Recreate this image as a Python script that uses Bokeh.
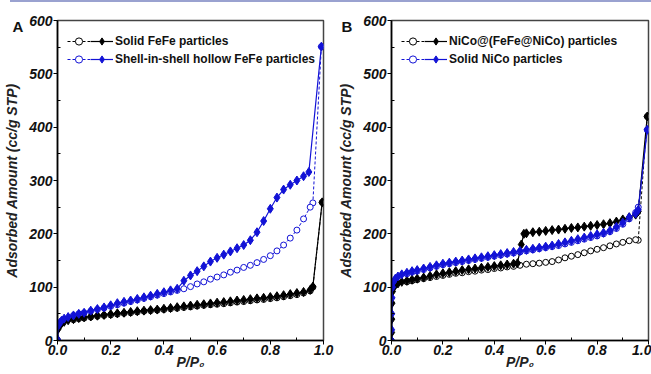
from bokeh.plotting import figure
from bokeh.models import Legend, LegendItem, FixedTicker, PrintfTickFormatter, Range1d, Div
from bokeh.layouts import row, column
from bokeh.embed import file_html
from bokeh.resources import INLINE

# ---------------- data ----------------
X_TICKS = [0.0, 0.2, 0.4, 0.6, 0.8, 1.0]
X_MINOR = [0.1, 0.3, 0.5, 0.7, 0.9]
Y_TICKS = [0, 100, 200, 300, 400, 500, 600]
Y_MINOR = [50, 150, 250, 350, 450, 550]

# Panel A
A_X_BLACK_FILLED = [0.0, 0.003, 0.008, 0.015, 0.025, 0.04, 0.06, 0.08,
                    0.1, 0.125, 0.15, 0.175, 0.2, 0.225, 0.25, 0.275, 0.3, 0.325,
                    0.35, 0.375, 0.4, 0.425, 0.45, 0.475, 0.5, 0.525, 0.55, 0.575,
                    0.6, 0.625, 0.65, 0.675, 0.7, 0.725, 0.75, 0.775, 0.8, 0.825,
                    0.85, 0.875, 0.9, 0.925, 0.95, 0.96, 0.995]
A_Y_BLACK_FILLED = [2, 22, 28, 32, 35, 38, 40, 42,
                    43.5, 45, 46.5, 48, 49.5, 51, 52, 53.5, 55, 56,
                    57, 58, 59.5, 61, 62.5, 64, 65.5, 67, 68, 69.5,
                    71, 72, 73.5, 75, 76, 77.5, 79, 80, 81.5, 83,
                    85, 87, 89, 91, 95, 101, 259]

A_X_BLUE_FILLED = [0.0, 0.003, 0.008, 0.015, 0.025, 0.04, 0.06, 0.08,
                   0.1, 0.125, 0.15, 0.175, 0.2, 0.225, 0.25, 0.275, 0.3, 0.325,
                   0.35, 0.375, 0.4, 0.425, 0.45, 0.475, 0.5, 0.525, 0.55, 0.575,
                   0.6, 0.625, 0.65, 0.675, 0.7, 0.725, 0.75, 0.775, 0.8, 0.825,
                   0.85, 0.875, 0.9, 0.925, 0.945, 0.992]
A_Y_BLUE_FILLED = [2, 28, 33, 37, 41, 44, 47, 50,
                   52, 56, 59, 62, 66, 70, 72.5, 75, 78, 81,
                   84, 87.5, 90.5, 94, 97, 112, 122, 130, 139, 148,
                   155, 161, 167, 173, 179, 188, 203, 224, 247, 268,
                   283, 292, 300, 308, 316, 551]

A_X_BLUE_OPEN = [0.992, 0.96, 0.95, 0.925, 0.9, 0.875, 0.85, 0.825, 0.8, 0.775,
                 0.75, 0.725, 0.7, 0.675, 0.65, 0.625, 0.6, 0.575, 0.55, 0.525,
                 0.5, 0.475, 0.45, 0.425, 0.4, 0.375, 0.35, 0.325, 0.3, 0.275,
                 0.25, 0.225, 0.2, 0.175, 0.15, 0.125, 0.1, 0.08, 0.06]
A_Y_BLUE_OPEN = [551, 258, 250, 228, 207, 192, 179, 168, 159, 152,
                 146, 141, 137, 132, 128, 123, 119, 115, 110, 106,
                 101, 97, 94, 91, 88, 85, 82, 79, 76, 73,
                 70, 67, 64, 61, 58, 55, 52, 50, 47]

A_X_BLACK_OPEN = [0.995, 0.96, 0.95, 0.925, 0.9, 0.875, 0.85, 0.825, 0.8, 0.775,
                  0.75, 0.725, 0.7, 0.675, 0.65, 0.625, 0.6, 0.575, 0.55, 0.525,
                  0.5, 0.475, 0.45, 0.425, 0.4, 0.375, 0.35, 0.325, 0.3, 0.275,
                  0.25, 0.225, 0.2, 0.175, 0.15, 0.125, 0.1, 0.08, 0.06]
A_Y_BLACK_OPEN = [259, 100, 93, 89, 86, 84, 82, 80, 78.5, 77,
                  76, 74.5, 73, 72, 70.5, 69, 68, 67, 66, 64.5,
                  63, 62, 60.5, 59.5, 58, 57, 56, 55, 53.5, 52,
                  51, 49.5, 48, 47, 45.5, 44, 42, 41, 39]

# Panel B
B_X_BLACK_FILLED = [0.0, 0.0005, 0.001, 0.002, 0.004, 0.008, 0.015, 0.025, 0.04, 0.06, 0.08,
                    0.1, 0.125, 0.15, 0.175, 0.2, 0.225, 0.25, 0.275, 0.3, 0.325,
                    0.35, 0.375, 0.4, 0.425, 0.45, 0.475, 0.49, 0.505, 0.515,
                    0.525, 0.55, 0.575, 0.6, 0.625, 0.65, 0.675, 0.7, 0.725, 0.75,
                    0.775, 0.8, 0.825, 0.85, 0.875, 0.9, 0.925, 0.95, 0.96, 0.995]
B_Y_BLACK_FILLED = [0, 15, 40, 70, 92, 100, 104, 107, 110, 112, 114,
                    116, 118, 121, 124, 126, 128, 130, 132, 133.5, 135,
                    136.5, 138, 139.5, 141, 142.5, 144, 145, 180, 200,
                    201, 203, 204, 205.5, 207, 208, 209.5, 211, 212, 213.5,
                    215, 216.5, 218, 220, 223, 227, 231, 236, 242, 420]

B_X_BLUE_FILLED = [0.0, 0.0005, 0.001, 0.002, 0.004, 0.008, 0.015, 0.025, 0.04, 0.06, 0.08,
                   0.1, 0.125, 0.15, 0.175, 0.2, 0.225, 0.25, 0.275, 0.3, 0.325,
                   0.35, 0.375, 0.4, 0.425, 0.45, 0.475, 0.5, 0.525, 0.55, 0.575,
                   0.6, 0.625, 0.65, 0.675, 0.7, 0.725, 0.75, 0.775, 0.8, 0.825,
                   0.85, 0.875, 0.9, 0.925, 0.95, 0.96, 0.995]
B_Y_BLUE_FILLED = [0, 20, 50, 80, 100, 110, 116, 120, 124, 127, 130,
                   132, 135, 138, 141, 144, 146, 148, 150, 152, 154,
                   156, 158, 160, 162, 164, 166, 168, 170, 172, 174,
                   176, 178, 181, 184, 187, 190, 193, 196, 199, 202,
                   206, 213, 221, 231, 238, 245, 395]

B_X_OPEN = [0.995, 0.96, 0.95, 0.925, 0.9, 0.875, 0.85, 0.825, 0.8, 0.775,
            0.75, 0.725, 0.7, 0.675, 0.65, 0.625, 0.6, 0.575, 0.55, 0.525,
            0.5, 0.475, 0.45, 0.425, 0.4, 0.375, 0.35, 0.325, 0.3, 0.275,
            0.25, 0.225, 0.2, 0.175, 0.15, 0.125, 0.1, 0.08, 0.06]
B_Y_BLUE_OPEN = [395, 250, 240, 228, 218, 210, 204, 200, 196, 193,
                 190, 187, 184, 181, 178, 176, 174, 172, 170, 168,
                 166, 164, 162, 160, 158, 156, 154, 152, 150, 148,
                 146, 144, 142, 139, 136, 133, 130, 128, 125]
B_Y_BLACK_OPEN = [420, 188, 189, 187, 184, 181, 177.5, 174, 171, 168,
                  164.5, 161, 158, 155, 151, 148, 146.5, 145, 144, 143,
                  141, 139, 138, 136, 135, 133, 132, 130, 129, 127,
                  126, 124, 122, 120, 118, 116, 114, 112, 110]

A_LABELS = ["Solid FeFe particles", "Shell-in-shell hollow FeFe particles"]
B_LABELS = ["NiCo@(FeFe@NiCo) particles", "Solid NiCo particles"]
Y_LABEL = "Adsorbed Amount (cc/g STP)"
X_LABEL = "P/P\u2080"

# ---------------- style ----------------
BLACK = "#000000"
BLUE = "#1212d6"
FONT = "Liberation Sans"
H = 372


def panel(letter, width, bl, br, black_f, blue_f, black_o, blue_o, labels, letter_offset):
    p = figure(width=width, height=H, x_range=Range1d(0, 1.0), y_range=Range1d(0, 600),
               output_backend="svg", toolbar_location=None,
               min_border_left=bl, min_border_right=br,
               min_border_top=18, min_border_bottom=34)
    p.background_fill_color = "white"
    p.border_fill_color = "white"
    p.xgrid.visible = False
    p.ygrid.visible = False
    p.outline_line_color = "#444444"
    p.outline_line_width = 1.5

    # panel letter as a left-aligned title pulled down beside the "600" label
    p.title.text = letter
    p.title.align = "left"
    p.title.offset = letter_offset
    p.title.standoff = -28
    p.title.text_font = FONT
    p.title.text_font_style = "bold"
    p.title.text_font_size = "15px"
    p.title.text_color = "#111111"

    rs_open = []
    for (xs, ys), col in ((black_o, BLACK), (blue_o, BLUE)):
        ln = p.line(xs, ys, line_color=col, line_width=1, line_dash="3 2")
        sc = p.scatter(xs, ys, marker="circle", size=6, fill_color="white",
                       line_color=col, line_width=1)
        rs_open.append([ln, sc])
    rs_filled = []
    for (xs, ys), col in ((black_f, BLACK), (blue_f, BLUE)):
        ln = p.line(xs, ys, line_color=col, line_width=1.2)
        sc = p.scatter(xs, ys, marker="diamond", size=9, fill_color=col,
                       line_color=col, line_width=1)
        rs_filled.append([ln, sc])

    common = dict(glyph_width=23, glyph_height=18, label_height=18, spacing=0,
                  padding=0, margin=0, border_line_alpha=0, background_fill_alpha=0,
                  label_text_font=FONT, label_text_font_style="bold",
                  label_text_font_size="12px", label_text_color="#111111")
    leg_o = Legend(items=[LegendItem(label=" ", renderers=r) for r in rs_open],
                   location=(10, 272), label_standoff=0, label_width=0, **common)
    leg_f = Legend(items=[LegendItem(label=t, renderers=r) for t, r in zip(labels, rs_filled)],
                   location=(33, 272), label_standoff=2, **common)
    p.add_layout(leg_o)
    p.add_layout(leg_f)

    for ax in (p.xaxis[0], p.yaxis[0]):
        ax.axis_line_color = "black"
        ax.axis_line_width = 1.6
        ax.major_tick_line_color = "black"
        ax.minor_tick_line_color = "black"
        ax.major_tick_out = 4
        ax.major_tick_in = 0
        ax.minor_tick_out = 0
        ax.minor_tick_in = 3
        ax.major_label_text_font = FONT
        ax.major_label_text_font_style = "bold italic"
        ax.major_label_text_font_size = "14px"
        ax.major_label_text_color = "#111111"
        ax.axis_label_text_font = FONT
        ax.axis_label_text_font_style = "bold italic"
        ax.axis_label_text_font_size = "14px"
        ax.axis_label_text_color = "#222222"
    p.xaxis.ticker = FixedTicker(ticks=X_TICKS, minor_ticks=X_MINOR)
    p.yaxis.ticker = FixedTicker(ticks=Y_TICKS, minor_ticks=Y_MINOR)
    p.xaxis.formatter = PrintfTickFormatter(format="%.1f")
    p.xaxis.major_label_standoff = 0
    p.yaxis.major_label_standoff = 1

    p.yaxis.axis_label = Y_LABEL
    p.yaxis.axis_label_standoff = 6
    p.xaxis.axis_label = X_LABEL
    p.xaxis.axis_label_standoff = -4
    return p


pa = panel("A", 335, 57, 12,
           (A_X_BLACK_FILLED, A_Y_BLACK_FILLED), (A_X_BLUE_FILLED, A_Y_BLUE_FILLED),
           (A_X_BLACK_OPEN, A_Y_BLACK_OPEN), (A_X_BLUE_OPEN, A_Y_BLUE_OPEN),
           A_LABELS, -45)
pb = panel("B", 316, 48, 3,
           (B_X_BLACK_FILLED, B_Y_BLACK_FILLED), (B_X_BLUE_FILLED, B_Y_BLUE_FILLED),
           (B_X_OPEN, B_Y_BLACK_OPEN), (B_X_OPEN, B_Y_BLUE_OPEN),
           B_LABELS, -50)

top_rule = Div(text="", width=641, height=2, margin=(0, 0, 0, 10),
               styles={"background-color": "#9aa2d0"})
layout = column(top_rule, row(pa, pb, spacing=0), spacing=0)
open("out.html", "w").write(file_html(layout, INLINE))
